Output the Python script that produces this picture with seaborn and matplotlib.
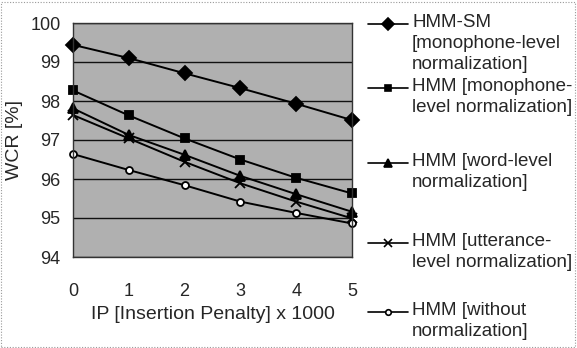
import matplotlib
matplotlib.use("Agg")
import matplotlib.pyplot as plt
from matplotlib.lines import Line2D
from matplotlib.patches import Rectangle
import seaborn as sns
import pandas as pd

ip = [0, 1, 2, 3, 4, 5]
hmm_sm_mono = [99.44, 99.10, 98.71, 98.33, 97.93, 97.51]
hmm_mono = [98.27, 97.63, 97.04, 96.50, 96.03, 95.63]
hmm_word = [97.81, 97.13, 96.62, 96.08, 95.61, 95.16]
hmm_utt = [97.64, 97.04, 96.44, 95.89, 95.42, 94.99]
hmm_none = [96.64, 96.23, 95.84, 95.42, 95.13, 94.86]

labels = [
    "HMM-SM\n[monophone-level\nnormalization]",
    "HMM [monophone-\nlevel normalization]",
    "HMM [word-level\nnormalization]",
    "HMM [utterance-\nlevel normalization]",
    "HMM [without\nnormalization]",
]
series = [hmm_sm_mono, hmm_mono, hmm_word, hmm_utt, hmm_none]
markers = ["D", "s", "^", "x", "o"]
msizes = [7, 6, 7, 7, 5]
mfaces = ["black", "black", "black", "black", "white"]

sns.set_theme(style="white")
plt.rcParams["font.family"] = ["Liberation Sans", "DejaVu Sans"]

W, H = 577, 348
fig = plt.figure(figsize=(W / 100, H / 100), dpi=100)
ax = fig.add_axes([73 / W, 1 - 257 / H, (352 - 73) / W, (257 - 23) / H])
ax.set_facecolor("#b0b0b0")

for vals, lab, m, ms, mf in zip(series, labels, markers, msizes, mfaces):
    df = pd.DataFrame({"ip": ip, "wcr": vals})
    sns.lineplot(data=df, x="ip", y="wcr", ax=ax, color="black", lw=1.4,
                 marker=m, markersize=ms, markerfacecolor=mf,
                 markeredgecolor="black", markeredgewidth=1.3, legend=False,
                 clip_on=False)

ax.set_xlim(0, 5)
ax.set_ylim(94, 100)
ax.set_xticks(ip)
ax.set_yticks([94, 95, 96, 97, 98, 99, 100])
ax.yaxis.grid(True, color="#111111", lw=1.0)
ax.set_axisbelow(True)
for s in ax.spines.values():
    s.set_color("#333333")
    s.set_linewidth(1.0)
ax.tick_params(axis="y", length=0, pad=9, labelsize=13)
ax.tick_params(axis="x", direction="in", length=4, pad=19, labelsize=13, color="#333333")
ax.set_xlabel("IP [Insertion Penalty] x 1000", fontsize=14, labelpad=4)
ax.set_ylabel("WCR [%]", fontsize=14, labelpad=5)

# legend (manual, handles aligned with first text line)
handle_y = [24, 88, 163, 243, 312]
for hy, lab, m, ms, mf in zip(handle_y, labels, markers, msizes, mfaces):
    yf = 1 - hy / H
    fig.add_artist(Line2D([368 / W, 408 / W], [yf, yf], transform=fig.transFigure,
                          color="black", lw=1.2))
    fig.add_artist(Line2D([388 / W], [yf], transform=fig.transFigure,
                          color="black", marker=m, markersize=ms - 1,
                          markerfacecolor=mf, markeredgecolor="black",
                          markeredgewidth=1.2, lw=0))
    fig.text(412 / W, 1 - (hy - 10) / H, lab, fontsize=13.5, va="top", ha="left",
             linespacing=1.3)

fig.add_artist(Rectangle((1 / W, 1 / H), (W - 3) / W, (H - 3) / H,
                         transform=fig.transFigure, fill=False,
                         ls=(0, (1, 1.5)), lw=0.8, ec="#999999"))

fig.savefig("out.png", dpi=100)
